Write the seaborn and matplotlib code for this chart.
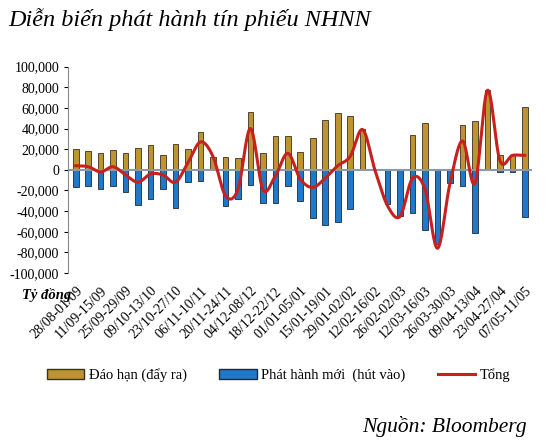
import numpy as np
import pandas as pd
import matplotlib
matplotlib.use("Agg")
import matplotlib.pyplot as plt
import seaborn as sns
from matplotlib.ticker import FuncFormatter
from matplotlib.patches import Patch
from matplotlib.lines import Line2D

dao_han = [20500, 18000, 16000, 19000, 16000, 21000, 24000, 14000, 25000, 20000, 37000, 12000, 12000, 11000,
           56000, 16000, 33000, 33000, 17000, 31000, 48000, 55000, 52000, 40000, 0, 0, 0, 34000, 45000, 0, 0,
           43000, 47000, 77000, 14000, 14000, 61000]
phat_hanh = [-17000, -16000, -19000, -16000, -21000, -34000, -28000, -19000, -37000, -12000, -11000, 0, -35000, -28000,
             -15000, -32000, -32000, -16000, -30000, -47000, -53000, -51000, -38000, 0, 0, -33000, -45000, -42000,
             -58000, -72000, -13000, -16000, -61000, 0, -2000, -2000, -46000]
tong = [4000, 3000, -2000, 3000, -5000, -12000, -4000, -5000, -12000, 7000, 27000, 13000, -25000, -19000,
        40000, -19000, -6000, 16000, -9000, -17000, -8000, 4000, 13000, 39000, -1000, -35000, -45000, -8000,
        -19000, -76000, -13000, 28000, -13000, 77000, 9000, 14000, 14000]
tick_labels = ["28/08-01/09", "11/09-15/09", "25/09-29/09", "09/10-13/10", "23/10-27/10", "06/11-10/11",
               "20/11-24/11", "04/12-08/12", "18/12-22/12", "01/01-05/01", "15/01-19/01", "29/01-02/02",
               "12/02-16/02", "26/02-02/03", "12/03-16/03", "26/03-30/03", "09/04-13/04", "23/04-27/04",
               "07/05-11/05"]

n = len(dao_han)
df = pd.DataFrame({"i": np.arange(n), "pos": dao_han, "neg": phat_hanh})

plt.rcParams['font.family'] = ['Liberation Serif', 'DejaVu Serif']
fig = plt.figure(figsize=(5.46, 4.44), dpi=100)
ax = fig.add_axes([0.125, 0.385, 0.85, 0.465])

gold = "#BE9430"
blue = "#1F78C8"
sns.barplot(data=df, x="i", y="pos", color=gold, width=0.45, edgecolor="#3a3020", linewidth=0.6, ax=ax, saturation=1)
sns.barplot(data=df, x="i", y="neg", color=blue, width=0.45, edgecolor="#1a2a40", linewidth=0.6, ax=ax, saturation=1)

x = np.arange(n, dtype=float)
y = np.array(tong, dtype=float)
xs, ys = [], []
P = np.concatenate([[y[0]], y, [y[-1]]])
for k in range(n - 1):
    p0, p1, p2, p3 = P[k], P[k + 1], P[k + 2], P[k + 3]
    t = np.linspace(0, 1, 20, endpoint=False)
    yy = 0.5 * ((2 * p1) + (-p0 + p2) * t + (2 * p0 - 5 * p1 + 4 * p2 - p3) * t**2 + (-p0 + 3 * p1 - 3 * p2 + p3) * t**3)
    xs.extend(k + t); ys.extend(yy)
xs.append(x[-1]); ys.append(y[-1])
ax.plot(xs, ys, color="#C8201E", lw=2.2, zorder=5)

ax.axhline(0, color="#8a9aa8", lw=1.5, zorder=1)
ax.set_ylim(-100000, 100000)
ax.set_yticks(np.arange(-100000, 100001, 20000))
ax.yaxis.set_major_formatter(FuncFormatter(lambda v, p: f"{int(v):,}"))
ax.set_xlim(-0.6, n - 0.4)
ax.set_xticks(np.arange(0, n, 2))
ax.set_xticklabels(tick_labels, rotation=45, ha="right", rotation_mode="anchor", fontsize=10)
ax.tick_params(axis="y", labelsize=10, length=3)
ax.tick_params(axis="x", length=0, pad=8)
for s in ["top", "right", "bottom"]:
    ax.spines[s].set_visible(False)
ax.spines["left"].set_color("#888888")
ax.set_xlabel(""); ax.set_ylabel("")

fig.text(0.015, 0.955, "Diễn biến phát hành tín phiếu NHNN", fontsize=17.5, style="italic", ha="left", va="center")
fig.text(0.04, 0.335, "Tỷ đồng", fontsize=10.5, style="italic", weight="bold", ha="left", va="center")
fig.text(0.965, 0.04, "Nguồn: Bloomberg", fontsize=15.5, style="italic", ha="right", va="center")

handles = [Patch(facecolor=gold, edgecolor="#3a3020"), Patch(facecolor=blue, edgecolor="#1a2a40"),
           Line2D([], [], color="#C8201E", lw=2.2)]
fig.legend(handles, ["Đáo hạn (đẩy ra)", "Phát hành mới  (hút vào)", "Tổng"], loc="center",
           bbox_to_anchor=(0.51, 0.155), ncol=3, frameon=False, fontsize=10.5, columnspacing=2.2,
           handlelength=2.6, handletextpad=0.3)

fig.savefig("out.png", dpi=100)
